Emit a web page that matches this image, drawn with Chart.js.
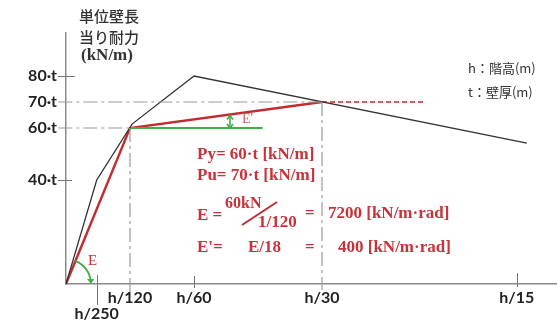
<!DOCTYPE html>
<html><head><meta charset="utf-8">
<script src="https://cdn.jsdelivr.net/npm/chart.js@4"></script>
<style>
html,body{margin:0;padding:0;background:#fff;}
#wrap{position:relative;width:557px;height:329px;overflow:hidden;background:#fff;}
canvas{position:absolute;left:0;top:0;}
.t{position:absolute;white-space:nowrap;line-height:1;}
.jp{font-family:"Noto Sans CJK JP",sans-serif;color:#333;font-weight:500;}
.red{font-family:"Liberation Serif",serif;color:#c8323a;font-size:17px;font-weight:bold;}
</style></head>
<body>
<div id="wrap">
<canvas id="c" width="557" height="329"></canvas>
<div class="t jp" style="left:79px;top:8px;font-size:15px;">単位壁長</div>
<div class="t jp" style="left:79px;top:29px;font-size:15px;">当り耐力</div>
<div class="t" style="left:81px;top:46px;font-size:17px;font-family:'Liberation Serif',serif;font-weight:bold;color:#333;">(kN/m)</div>
<div class="t jp" style="left:468px;top:61px;font-size:13px;font-weight:400;">h：階高(m)</div>
<div class="t jp" style="left:468px;top:85px;font-size:13px;font-weight:400;">t：壁厚(m)</div>
<div class="t red" style="left:197px;top:145px;">Py= 60·t [kN/m]</div>
<div class="t red" style="left:197px;top:166px;">Pu= 70·t [kN/m]</div>
<div class="t red" style="left:197px;top:206px;">E =</div>
<div class="t red" style="left:225px;top:195px;font-size:16px;">60kN</div>
<div class="t red" style="left:258px;top:213px;">1/120</div>
<div class="t red" style="left:305px;top:204px;">=</div>
<div class="t red" style="left:328px;top:204px;">7200 [kN/m·rad]</div>
<div class="t red" style="left:197px;top:238px;">E'=</div>
<div class="t red" style="left:248px;top:238px;">E/18</div>
<div class="t red" style="left:305px;top:238px;">=</div>
<div class="t red" style="left:338px;top:238px;">400 [kN/m·rad]</div>
<div class="t red" style="left:88px;top:253px;font-size:15px;font-weight:normal;">E</div>
<div class="t red" style="left:242px;top:112px;font-size:14px;font-weight:normal;color:#c86a6a;">E'</div>
</div>
<script>
// x values in 1/1000 rad (drift angle); h/15 sits on a shortened (broken) part of the axis
const xTickValues = [4, 8.333, 16.667, 33.333, 58.7];
const xTickLabels = ['h/250', 'h/120', 'h/60', 'h/30', 'h/15'];
const yTickValues = [40, 60, 70, 80];
const yTickLabels = ['40·t', '60·t', '70·t', '80·t'];

// test envelope (black)
const testX = [0, 4, 8.6, 16.667, 60.0];
const testY = [0, 40, 61.5, 80, 54.2];
// bilinear model (red)
const modelX = [0, 8.333, 33.333];
const modelY = [0, 60, 70];
// Pu extension (red dashed)
const puX = [33.333, 46.7];
const puY = [70, 70];
// Py level reference (green)
const pyX = [8.333, 25.6];
const pyY = [60, 60];
// gray dash-dot guides
const guide70X = [-1, 33.333]; const guide70Y = [70, 70];
const guide60X = [-1, 8.333];  const guide60Y = [60, 60];
const guideV120X = [8.333, 8.333]; const guideV120Y = [60, -4.2];
const guideV30X = [33.333, 33.333]; const guideV30Y = [70, -2.3];
// E' arrow position
const ePrimeX = 21.35;

const pts = (xs, ys) => xs.map((x, i) => ({x, y: ys[i]}));
const RED = '#c42a2f', GREEN = '#3cb043', GRAY = '#9a9a9a';

const deco = {
  id: 'deco',
  afterDatasetsDraw(chart) {
    const {ctx, scales: {x, y}} = chart;
    const x0 = x.getPixelForValue(0), y0 = y.getPixelForValue(0);
    ctx.save();
    // x tick marks
    ctx.strokeStyle = '#777'; ctx.lineWidth = 1;
    const marks = [[xTickValues[0], -9, 21], [xTickValues[2], -8, 4], [xTickValues[4], -11, 3]];
    marks.forEach(([v, up, down]) => {
      const px = Math.round(x.getPixelForValue(v)) + 0.5;
      ctx.beginPath(); ctx.moveTo(px, y0 + up); ctx.lineTo(px, y0 + down); ctx.stroke();
    });
    // y tick marks
    [[80, 17], [40, 14]].forEach(([v, len]) => {
      const py = Math.round(y.getPixelForValue(v)) + 0.5;
      ctx.beginPath(); ctx.moveTo(x0 - 8, py); ctx.lineTo(x0 - 8 + len, py); ctx.stroke();
    });
    // green arc for E
    const ang = Math.atan2(y.getPixelForValue(modelY[1]) - y0, x.getPixelForValue(modelX[1]) - x0);
    const r = 25;
    ctx.strokeStyle = GREEN; ctx.fillStyle = GREEN; ctx.lineWidth = 1.8;
    ctx.beginPath(); ctx.arc(x0, y0, r, ang, -0.12); ctx.stroke();
    ctx.beginPath(); ctx.moveTo(x0 + r - 4, y0 - 5); ctx.lineTo(x0 + r + 3, y0 - 5); ctx.lineTo(x0 + r, y0); ctx.closePath(); ctx.fill();
    // E' arrow
    const ax = x.getPixelForValue(ePrimeX);
    const ayB = y.getPixelForValue(60);
    const slope = (modelY[2] - modelY[1]) / (modelX[2] - modelX[1]);
    const ayT = y.getPixelForValue(60 + slope * (ePrimeX - modelX[1]));
    ctx.lineWidth = 1.6;
    ctx.beginPath(); ctx.moveTo(ax, ayB); ctx.lineTo(ax, ayT + 1); ctx.stroke();
    ctx.beginPath(); ctx.moveTo(ax - 3, ayT + 5); ctx.lineTo(ax, ayT + 1); ctx.lineTo(ax + 3, ayT + 5); ctx.stroke();
    ctx.beginPath(); ctx.moveTo(ax - 3, ayB - 4); ctx.lineTo(ax, ayB); ctx.lineTo(ax + 3, ayB - 4); ctx.stroke();
    // fraction slash
    ctx.strokeStyle = RED; ctx.lineWidth = 2;
    ctx.beginPath(); ctx.moveTo(242, 225); ctx.lineTo(277, 202); ctx.stroke();
    ctx.restore();
  }
};

new Chart(document.getElementById('c'), {
  type: 'line',
  data: {
    datasets: [
      {data: pts(guide70X, guide70Y), borderColor: GRAY, borderWidth: 1.2, borderDash: [14, 4, 3, 4], clip: false},
      {data: pts(guide60X, guide60Y), borderColor: GRAY, borderWidth: 1.2, borderDash: [14, 4, 3, 4], clip: false},
      {data: pts(guideV120X, guideV120Y), borderColor: GRAY, borderWidth: 1.2, borderDash: [14, 4, 3, 4], clip: false},
      {data: pts(guideV30X, guideV30Y), borderColor: GRAY, borderWidth: 1.2, borderDash: [14, 4, 3, 4], clip: false},
      {data: pts(testX, testY), borderColor: '#333', borderWidth: 1.3},
      {data: pts(pyX, pyY), borderColor: GREEN, borderWidth: 1.8},
      {data: pts(puX, puY), borderColor: RED, borderWidth: 1.5, borderDash: [5, 3]},
      {data: pts(modelX, modelY), borderColor: RED, borderWidth: 2.4}
    ]
  },
  options: {
    responsive: false, animation: false,
    layout: {padding: {top: 33, right: 0, left: 0, bottom: 0}},
    elements: {point: {radius: 0}, line: {tension: 0, fill: false}},
    plugins: {legend: {display: false}, tooltip: {enabled: false}},
    scales: {
      x: {
        type: 'linear', min: 0, max: 63.93,
        afterBuildTicks: s => { s.ticks = xTickValues.map(v => ({value: v})); },
        afterFit: s => { s.height = 45; },
        grid: {display: false, drawTicks: false},
        border: {display: true, color: '#8a8a8a', width: 1.5},
        ticks: {
          autoSkip: false, maxRotation: 0, padding: 6, color: '#222',
          font: {family: 'Lato', weight: 'bold', size: 16, lineHeight: 1.0},
          callback: (v, i) => i === 0 ? ['', xTickLabels[0]] : xTickLabels[i]
        }
      },
      y: {
        type: 'linear', min: 0, max: 96.54,
        afterBuildTicks: s => { s.ticks = yTickValues.map(v => ({value: v})); },
        afterFit: s => { s.width = 66; },
        grid: {display: false, drawTicks: false},
        border: {display: true, color: '#8a8a8a', width: 1.5},
        ticks: {
          padding: 9, color: '#222',
          font: {family: 'Lato', weight: 'bold', size: 16},
          callback: (v, i) => yTickLabels[i]
        }
      }
    }
  },
  plugins: [deco]
});
</script>
</body></html>
